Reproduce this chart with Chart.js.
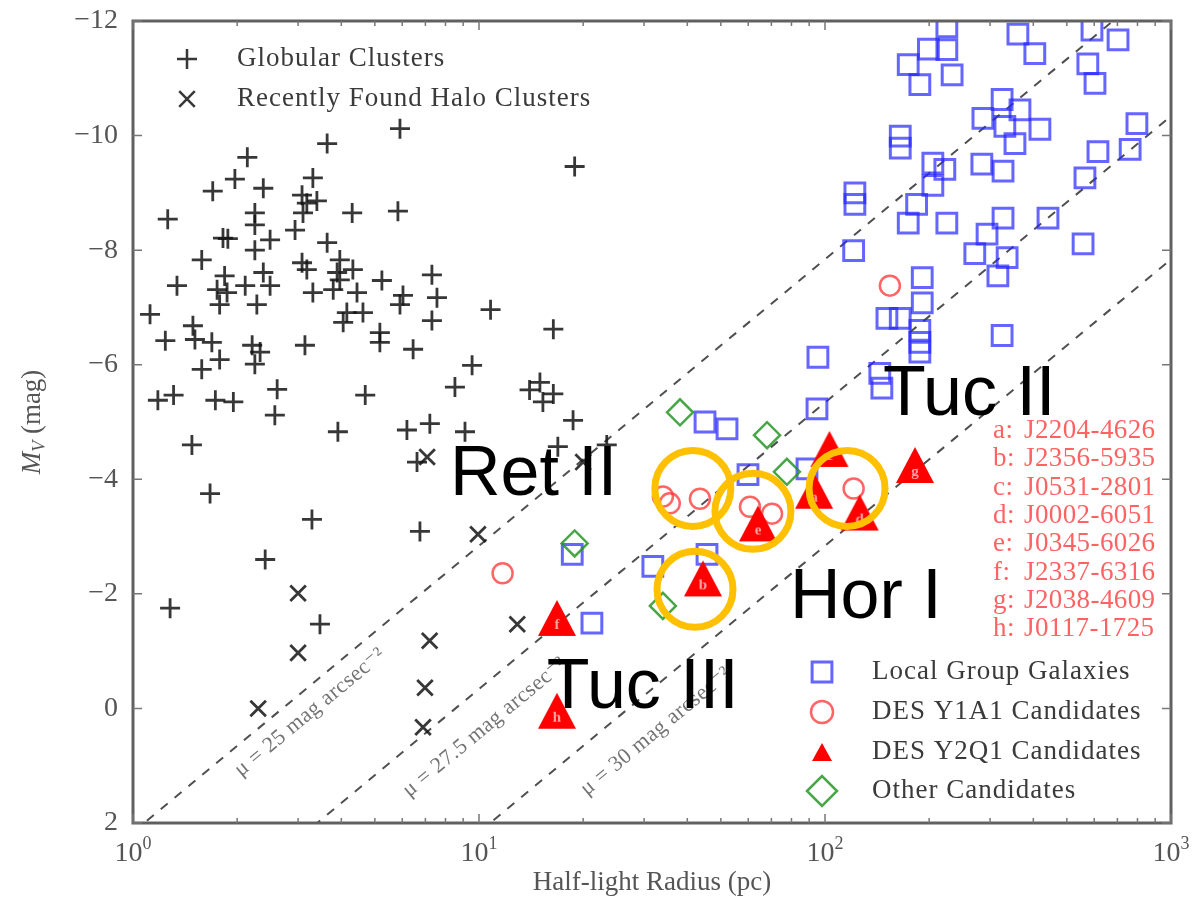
<!DOCTYPE html>
<html lang="en">
<head>
<meta charset="UTF-8">
<title>Size-luminosity plane of Milky Way satellites</title>
<script src="https://cdn.jsdelivr.net/npm/chart.js"></script>
<style>
  body { margin: 0; background: #fff; }
  canvas { display: block; }
</style>
</head>
<body>
<canvas id="sizeLum" width="1192" height="916"></canvas>
<script>
// half-light radius (pc) and absolute V magnitude per population
const gcRadius = [
  5.91, 3.64, 2.14, 1.97, 1.70, 2.38, 3.31, 3.08, 3.18, 3.40,
  3.10, 4.30, 5.83, 1.26, 2.25, 2.25, 2.94, 1.82, 1.88, 2.49,
  3.64, 2.25, 1.58, 3.08, 3.18, 3.96, 3.89, 4.32, 2.38, 2.49,
  1.34, 1.84, 1.75, 1.87, 1.78, 2.11, 2.28, 3.31, 3.79, 3.96,
  4.44, 5.24, 7.31, 6.03, 5.91, 7.56, 1.12, 4.15, 4.05, 4.62,
  5.17, 5.17, 6.45, 7.31, 1.49, 1.51, 1.69, 1.24, 2.21, 2.33,
  3.14, 1.78, 1.58, 2.25, 2.61, 2.57, 1.18, 1.31, 1.73, 1.95,
  4.69, 3.91, 6.19, 7.21, 8.52, 1.48, 6.62, 1.67, 3.29, 6.75,
  2.41, 1.28, 3.47,
  18.9, 10.8, 16.4, 9.55, 15.0, 14.0, 16.4, 15.3, 18.7, 9.11, 16.9, 23.4
];
const gcMag = [
  -10.12, -9.86, -9.62, -9.24, -9.03, -9.08, -9.26, -8.96, -8.82, -8.86,
  -8.65, -8.65, -8.68, -8.54, -8.65, -8.44, -8.35, -8.21, -8.20, -8.18,
  -8.13, -8.00, -7.83, -7.78, -7.66, -7.83, -7.61, -7.66, -7.61, -7.38,
  -7.38, -7.55, -7.31, -7.26, -7.05, -7.38, -7.05, -7.26, -7.31, -7.48,
  -7.26, -7.47, -7.57, -7.21, -7.05, -7.17, -6.88, -6.91, -6.74, -6.91,
  -6.56, -6.39, -6.27, -6.77, -6.68, -6.44, -6.39, -6.42, -6.34, -6.22,
  -6.34, -6.09, -5.92, -6.01, -5.57, -5.12, -5.38, -5.47, -5.38, -5.35,
  -5.47, -4.83, -4.86, -4.97, -5.61, -4.60, -4.30, -3.75, -3.30, -3.09,
  -2.60, -1.75, -1.47,
  -9.46, -6.96, -6.62, -5.99, -5.69, -5.56, -5.49, -5.35, -5.03, -4.83, -4.57, -4.60
];

const haloRadius = [7.08, 9.93, 3.0, 3.0, 2.3, 7.2, 6.98, 6.89, 12.9, 20.0];
const haloMag = [-4.39, -3.04, -2.01, -0.97, 0.0, -1.18, -0.36, 0.33, -1.47, -4.30];

const lgRadius = [
  225, 361, 591, 199, 225, 404, 703, 174, 233, 188,
  575, 603, 325, 366, 286, 331, 418, 354, 797, 615,
  762, 165, 165, 205, 222, 205, 284, 327, 184, 174,
  225, 122, 122, 327, 294, 271, 336, 316, 441, 564,
  557, 121, 191, 191, 151, 165, 188, 188, 188, 325,
  144, 146, 95.4, 94.8, 45.0, 52.1, 59.9, 88.7, 31.8, 21.2,
  18.6, 45.6
];
const lgMag = [
  -11.90, -11.77, -11.84, -11.51, -11.50, -11.43, -11.67, -11.24, -11.06, -10.89,
  -11.25, -10.91, -10.63, -10.45, -10.30, -10.16, -10.11, -9.86, -10.21, -9.72,
  -9.76, -9.99, -9.78, -9.52, -9.41, -9.13, -9.50, -9.38, -8.80, -8.47,
  -8.47, -9.00, -8.80, -8.56, -8.28, -7.94, -7.87, -7.55, -8.56, -9.26,
  -8.11, -7.99, -7.52, -7.08, -6.81, -6.81, -6.60, -6.39, -6.22, -6.51,
  -5.85, -5.59, -6.13, -5.23, -5.00, -4.88, -4.08, -4.18, -2.48, -1.49,
  -2.69, -2.69
];

const y1Radius = [154, 11.7, 34.0, 35.6, 43.5, 60.7, 70.3, 121];
const y1Mag = [-7.38, -2.36, -3.70, -3.58, -3.66, -3.52, -3.40, -3.84];

const y2Letters = ['a', 'b', 'c', 'd', 'e', 'f', 'g', 'h'];
const y2Names = ['J2204-4626', 'J2356-5935', 'J0531-2801', 'J0002-6051',
                 'J0345-6026', 'J2337-6316', 'J2038-4609', 'J0117-1725'];
const y2Radius = [93, 44.4, 103, 126, 64, 16.8, 182, 16.8];
const y2Mag = [-3.8, -2.27, -4.53, -3.42, -3.23, -1.58, -4.25, 0.04];

const otherRadius = [38.1, 68.0, 77.6, 18.9, 34.0];
const otherMag = [-5.17, -4.77, -4.13, -2.88, -1.79];

// constant surface-brightness lines, magnitude at r = 1 pc and r = 1000 pc
const muLevels = ['25', '27.5', '30'];
const muRadii = [1, 1000];
const muMagStart = [2.16, 4.66, 7.16];
const muMagEnd = [-12.84, -10.34, -7.84];
const muLabelRadius = [3.25, 10.4, 32.5];
const muLabelMag = [0.07, 0.33, 0.4];

// highlighted objects
const ringRadius = [41.5, 61.9, 115.8, 42.1];
const ringMag = [-3.84, -3.44, -3.84, -2.08];
const noteText = ['Ret II', 'Tuc II', 'Hor I', 'Tuc III'];
const noteRadius = [8.24, 147, 79.2, 15.7];
const noteMag = [-3.73, -5.12, -1.58, -0.01];

const xMajor = [1, 10, 100, 1000];
const yTicks = [-12, -10, -8, -6, -4, -2, 0, 2];

const pts = (rs, ms) => rs.map((r, i) => ({ x: r, y: ms[i] }));
const SERIF = '"Liberation Serif", "DejaVu Serif", serif';

const CROSS = 'rgba(20,20,20,0.85)';
const BLUE = 'rgba(35,35,255,0.7)';
const RED_O = 'rgba(255,50,50,0.75)';
const RED = 'rgb(255,0,0)';
const GREEN = 'rgba(40,150,40,0.85)';
const TICK_TEXT = '#555';

// filled triangle sprites carrying the candidate letter
function triangleSprite(letter, w, h) {
  const c = document.createElement('canvas');
  c.width = w; c.height = h;
  const g = c.getContext('2d');
  g.fillStyle = RED;
  g.beginPath();
  g.moveTo(w / 2, 1);
  g.lineTo(w - 1, h - 1);
  g.lineTo(1, h - 1);
  g.closePath();
  g.fill();
  if (letter) {
    g.fillStyle = 'rgba(255,190,190,0.85)';
    g.font = 'bold 15px ' + SERIF;
    g.textAlign = 'center';
    g.textBaseline = 'middle';
    g.fillText(letter, w / 2, h * 0.68);
  }
  return c;
}
const y2Sprites = y2Letters.map(l => triangleSprite(l, 40, 38));
const legendTriangle = triangleSprite('', 22, 20);

function lineSet(i) {
  return {
    type: 'line',
    data: pts(muRadii, [muMagStart[i], muMagEnd[i]]),
    borderColor: 'rgba(60,60,60,0.9)',
    borderWidth: 2,
    borderDash: [9, 9],
    pointRadius: 0,
    fill: false,
    clip: 0,
    order: 10
  };
}

const overlay = {
  id: 'overlay',
  afterDatasetsDraw(chart) {
    const { ctx, chartArea: a, scales: { x, y } } = chart;
    const px = r => x.getPixelForValue(r);
    const py = m => y.getPixelForValue(m);
    const drawPoint = Chart.helpers.drawPoint;

    ctx.save();

    // labels along the surface-brightness lines
    ctx.fillStyle = 'rgba(90,90,90,0.85)';
    ctx.font = '22px ' + SERIF;
    ctx.letterSpacing = '0.5px';
    ctx.textAlign = 'center';
    ctx.textBaseline = 'middle';
    muLevels.forEach((mu, i) => {
      const ang = Math.atan2(py(muMagEnd[i]) - py(muMagStart[i]), px(muRadii[1]) - px(muRadii[0]));
      ctx.save();
      ctx.translate(px(muLabelRadius[i]), py(muLabelMag[i]));
      ctx.rotate(ang);
      ctx.fillText('μ = ' + mu + ' mag arcsec⁻²', 0, 0);
      ctx.restore();
    });
    ctx.letterSpacing = '0px';

    // frame
    ctx.strokeStyle = '#606060';
    ctx.lineWidth = 3;
    ctx.strokeRect(a.left, a.top, a.right - a.left, a.bottom - a.top);

    // inward ticks on all four sides
    ctx.strokeStyle = '#777';
    ctx.lineWidth = 1.5;
    ctx.beginPath();
    yTicks.forEach(v => {
      const p = py(v);
      ctx.moveTo(a.left, p); ctx.lineTo(a.left + 9, p);
      ctx.moveTo(a.right, p); ctx.lineTo(a.right - 9, p);
    });
    xMajor.forEach((d, k) => {
      for (let m = 1; m <= 9; m++) {
        if (k === 3 && m > 1) break;
        const p = px(d * m);
        const len = m === 1 ? 9 : 5;
        ctx.moveTo(p, a.bottom); ctx.lineTo(p, a.bottom - len);
        ctx.moveTo(p, a.top); ctx.lineTo(p, a.top + len);
      }
    });
    ctx.stroke();

    // tick labels: y with typographic minus, x as powers of ten
    ctx.fillStyle = TICK_TEXT;
    ctx.font = '28px ' + SERIF;
    ctx.textAlign = 'right';
    ctx.textBaseline = 'middle';
    yTicks.forEach(v => ctx.fillText(v < 0 ? '−' + Math.abs(v) : String(v), a.left - 15, py(v)));
    ctx.textAlign = 'left';
    ctx.textBaseline = 'alphabetic';
    xMajor.forEach(v => {
      const exp = String(Math.round(Math.log10(v)));
      ctx.font = '28px ' + SERIF;
      const wBase = ctx.measureText('10').width;
      ctx.font = '18px ' + SERIF;
      const wExp = ctx.measureText(exp).width;
      const left = px(v) - (wBase + wExp) / 2;
      ctx.font = '28px ' + SERIF;
      ctx.fillText('10', left, a.bottom + 38);
      ctx.font = '18px ' + SERIF;
      ctx.fillText(exp, left + wBase, a.bottom + 26);
    });

    // legends
    const legendItem = (mx, my, text, style) => {
      ctx.save();
      ctx.strokeStyle = style.color;
      ctx.fillStyle = style.fill || 'rgba(0,0,0,0)';
      ctx.lineWidth = style.borderWidth;
      if (style.image) {
        ctx.drawImage(style.image, mx - style.image.width / 2, my - style.image.height / 2);
      } else {
        drawPoint(ctx, { pointStyle: style.pointStyle, radius: style.radius, borderWidth: style.borderWidth, rotation: 0 }, mx, my);
      }
      ctx.restore();
      ctx.fillStyle = '#3a3a3a';
      ctx.font = '27px ' + SERIF;
      ctx.letterSpacing = '1px';
      ctx.textAlign = 'left';
      ctx.textBaseline = 'middle';
      ctx.fillText(text, mx + 50, my);
      ctx.letterSpacing = '0px';
    };
    legendItem(a.left + 54, a.top + 38, 'Globular Clusters', { pointStyle: 'cross', radius: 10, borderWidth: 2.5, color: CROSS });
    legendItem(a.left + 54, a.top + 78, 'Recently Found Halo Clusters', { pointStyle: 'crossRot', radius: 11, borderWidth: 2.5, color: CROSS });
    const bx = a.left + 689;
    legendItem(bx, a.top + 651, 'Local Group Galaxies', { pointStyle: 'rect', radius: 14, borderWidth: 3, color: BLUE });
    legendItem(bx, a.top + 691, 'DES Y1A1 Candidates', { pointStyle: 'circle', radius: 11, borderWidth: 2.5, color: RED_O });
    legendItem(bx, a.top + 731, 'DES Y2Q1 Candidates', { image: legendTriangle, borderWidth: 0, color: RED });
    legendItem(bx, a.top + 770, 'Other Candidates', { pointStyle: 'rectRot', radius: 15, borderWidth: 2.5, color: GREEN });

    // candidate key
    ctx.fillStyle = 'rgba(255,70,70,0.85)';
    ctx.font = '27px ' + SERIF;
    ctx.letterSpacing = '0.4px';
    ctx.textBaseline = 'middle';
    ctx.textAlign = 'left';
    y2Letters.forEach((l, i) => {
      const ty = a.top + 410 + i * 28.3;
      ctx.fillText(l + ':', a.right - 178, ty);
      ctx.fillText(y2Names[i], a.right - 147, ty);
    });
    ctx.letterSpacing = '0px';

    // highlighted objects
    ctx.strokeStyle = '#FFC000';
    ctx.lineWidth = 7;
    ringRadius.forEach((r, i) => {
      ctx.beginPath();
      ctx.arc(px(r), py(ringMag[i]), 38, 0, Math.PI * 2);
      ctx.stroke();
    });
    ctx.fillStyle = '#000';
    ctx.font = '70px "Liberation Sans", Arial, sans-serif';
    ctx.textAlign = 'left';
    ctx.textBaseline = 'alphabetic';
    noteText.forEach((t, i) => ctx.fillText(t, px(noteRadius[i]), py(noteMag[i])));

    ctx.restore();
  },
  afterDraw(chart) {
    // rotated y title with italic M and subscript V
    const { ctx, chartArea: a } = chart;
    ctx.save();
    ctx.translate(31, (a.top + a.bottom) / 2);
    ctx.rotate(-Math.PI / 2);
    ctx.fillStyle = TICK_TEXT;
    ctx.textBaseline = 'alphabetic';
    const fM = 'italic 27px ' + SERIF, fV = 'italic 18px ' + SERIF, fU = '27px ' + SERIF;
    ctx.font = fM; const wM = ctx.measureText('M').width;
    ctx.font = fV; const wV = ctx.measureText('V').width;
    ctx.font = fU; const wU = ctx.measureText(' (mag)').width;
    let cx = -(wM + wV + wU) / 2;
    const base = 9;
    ctx.font = fM; ctx.fillText('M', cx, base); cx += wM;
    ctx.font = fV; ctx.fillText('V', cx, base + 5); cx += wV;
    ctx.font = fU; ctx.fillText(' (mag)', cx, base);
    ctx.restore();
  }
};

const config = {
  type: 'scatter',
  data: {
    datasets: [
      { label: 'Globular Clusters', data: pts(gcRadius, gcMag), pointStyle: 'cross',
        radius: 10, borderWidth: 2.8, borderColor: CROSS, clip: 0, order: 6 },
      { label: 'Recently Found Halo Clusters', data: pts(haloRadius, haloMag), pointStyle: 'crossRot',
        radius: 11, borderWidth: 2.8, borderColor: CROSS, clip: 0, order: 5 },
      { label: 'Local Group Galaxies', data: pts(lgRadius, lgMag), pointStyle: 'rect',
        radius: 14, borderWidth: 3, borderColor: BLUE, backgroundColor: 'rgba(0,0,0,0)', clip: 0, order: 4 },
      { label: 'Other Candidates', data: pts(otherRadius, otherMag), pointStyle: 'rectRot',
        radius: 13, borderWidth: 2.5, borderColor: GREEN, backgroundColor: 'rgba(0,0,0,0)', clip: 0, order: 3 },
      { label: 'DES Y1A1 Candidates', data: pts(y1Radius, y1Mag), pointStyle: 'circle',
        radius: 10, borderWidth: 2.5, borderColor: RED_O, backgroundColor: 'rgba(0,0,0,0)', clip: 0, order: 2 },
      { label: 'DES Y2Q1 Candidates', data: pts(y2Radius, y2Mag),
        pointStyle: ctx => y2Sprites[ctx.dataIndex], radius: 20, clip: 0, order: 1 },
      lineSet(0), lineSet(1), lineSet(2)
    ]
  },
  options: {
    responsive: false,
    animation: false,
    events: [],
    layout: { padding: { left: 0, top: 17, right: 21, bottom: 0 } },
    plugins: { legend: { display: false }, tooltip: { enabled: false } },
    scales: {
      x: {
        type: 'logarithmic',
        min: 1,
        max: 1000,
        afterBuildTicks: axis => { axis.ticks = xMajor.map(v => ({ value: v })); },
        afterFit: axis => { axis.height = 93; },
        grid: { display: false, drawTicks: false },
        border: { display: false },
        ticks: { display: false },
        title: {
          display: true,
          text: 'Half-light Radius (pc)',
          color: TICK_TEXT,
          font: { family: SERIF, size: 27 },
          padding: { top: 0, bottom: 17 }
        }
      },
      y: {
        reverse: true,
        min: -12,
        max: 2,
        afterFit: axis => { axis.width = 133; },
        grid: { display: false, drawTicks: false },
        border: { display: false },
        ticks: { display: false, stepSize: 2 }
      }
    }
  },
  plugins: [overlay]
};

const chart = new Chart(document.getElementById('sizeLum').getContext('2d'), config);
</script>
</body>
</html>
